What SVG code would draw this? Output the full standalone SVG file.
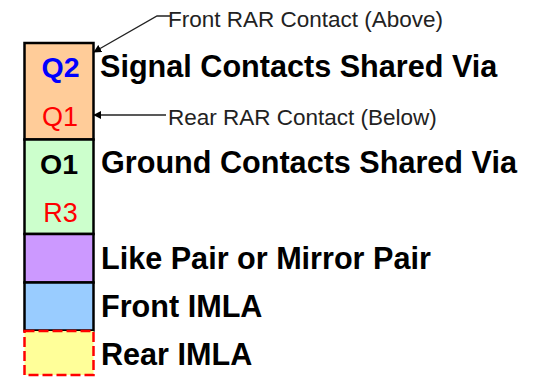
<svg xmlns="http://www.w3.org/2000/svg" width="535" height="377" viewBox="0 0 535 377">
  <style>
    .box { stroke: #000; stroke-width: 2.5; }
    .lbl { font-family: "Liberation Sans", Arial, sans-serif; font-weight: bold; font-size: 30.6px; fill: #000; }
    .note { font-family: "Liberation Sans", Arial, sans-serif; font-size: 22.5px; fill: #222; }
    .code { font-family: "Liberation Sans", Arial, sans-serif; font-size: 27px; text-anchor: middle; }
    .codeb { font-family: "Liberation Sans", Arial, sans-serif; font-size: 28.5px; font-weight: bold; text-anchor: middle; }
    .lead { fill: none; stroke: #222; stroke-width: 1.3; marker-end: url(#arr); }
  </style>
  <defs>
    <marker id="arr" viewBox="0 0 10 10" refX="9" refY="5" markerWidth="8" markerHeight="8" markerUnits="userSpaceOnUse" orient="auto">
      <path d="M0 0 L10 5 L0 10 Z" fill="#000"/>
    </marker>
  </defs>
  <rect width="535" height="377" fill="#fff"/>

  <g id="signal">
    <rect class="box" x="24.5" y="43" width="69" height="96.5" fill="#FFCC99"/>
    <text class="codeb" x="60.5" y="77" fill="#0000FF">Q2</text>
    <text class="code" x="60" y="126" fill="#FF0000">Q1</text>
    <text class="lbl" x="100" y="77">Signal Contacts Shared Via</text>
  </g>

  <g id="ground">
    <rect class="box" x="24.5" y="139.5" width="69" height="94.5" fill="#CCFFCC"/>
    <text class="codeb" x="59" y="174" fill="#000">O1</text>
    <text class="code" x="60.5" y="222" fill="#FF0000">R3</text>
    <text class="lbl" x="101" y="173">Ground Contacts Shared Via</text>
  </g>

  <g id="like-pair">
    <rect class="box" x="24.5" y="234" width="69" height="48.5" fill="#CC99FF"/>
    <text class="lbl" x="101" y="269">Like Pair or Mirror Pair</text>
  </g>

  <g id="front-imla">
    <rect class="box" x="24.5" y="282.5" width="69" height="48" fill="#99CCFF"/>
    <text class="lbl" x="101" y="317">Front IMLA</text>
  </g>

  <g id="rear-imla">
    <rect x="24.5" y="331" width="69" height="44" fill="#FFFF99" stroke="#FF0000" stroke-width="2.5" stroke-dasharray="10 4"/>
    <text class="lbl" x="101" y="365">Rear IMLA</text>
  </g>

  <g id="front-rar">
    <text class="note" x="168" y="27">Front RAR Contact (Above)</text>
  </g>
  <g id="rear-rar">
    <text class="note" x="168" y="125">Rear RAR Contact (Below)</text>
  </g>

  <g id="connectors">
    <path class="lead" d="M170 16 L157 16 L94 52"/>
    <path class="lead" d="M166 115 L94 115"/>
  </g>
</svg>
